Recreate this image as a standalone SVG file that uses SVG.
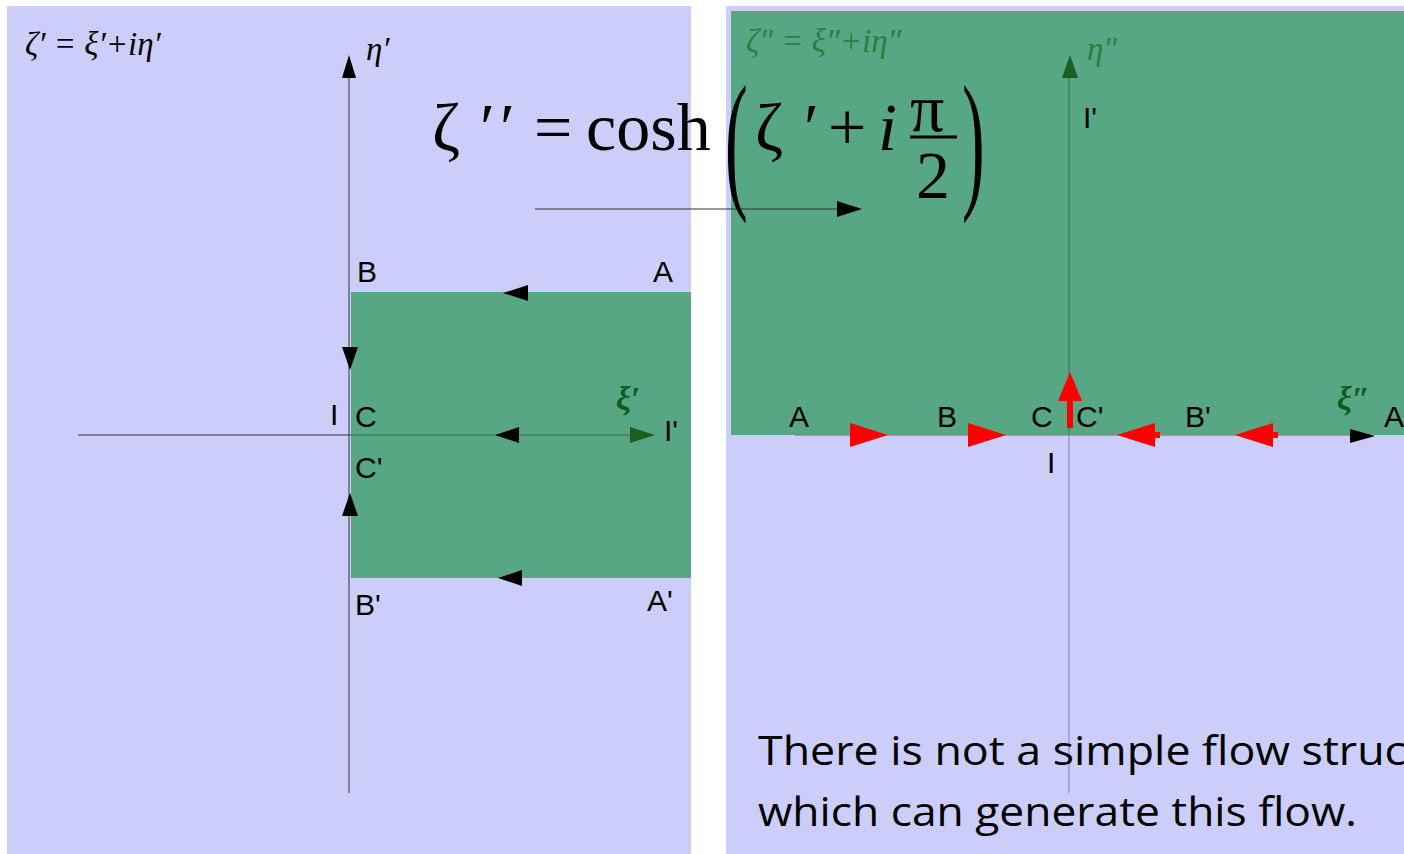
<svg xmlns="http://www.w3.org/2000/svg" width="1404" height="854" viewBox="0 0 1404 854">
<style>
.bg{fill:#cccef9}
.gr{fill:#57a785}
.ax{stroke:#333;stroke-width:1;fill:none}
.axg{stroke:#3d6b4a;stroke-width:1;fill:none}
.axp{stroke:#9a9ac4;stroke-width:1.5;fill:none}
.lbl{font-family:"Liberation Sans",Arial,sans-serif;font-size:30px;fill:#000}
.mi{font-family:"Liberation Serif","DejaVu Serif",serif;font-style:italic;font-size:33px}
.big{font-family:"Liberation Serif","DejaVu Serif",serif;font-size:68px;fill:#000}
.note{font-family:"Open Sans",Lato,sans-serif;font-size:41px;fill:#000}
.blk{fill:#000}
.red{fill:#ff0000}
.dg{fill:#1b5e20}
</style>
<g id="panels">
<rect class="bg" x="7" y="6" width="684" height="848"/>
<rect class="bg" x="726" y="6" width="678" height="848"/>
<rect class="gr" x="351" y="292" width="340" height="286"/>
<rect class="gr" x="731" y="11" width="673" height="424"/>
</g>
<g id="connectors">
<line class="ax" x1="78" y1="435" x2="351" y2="435"/>
<line class="axg" x1="351" y1="435" x2="640" y2="435"/>
<line class="ax" x1="349" y1="793" x2="349" y2="70"/>
<polygon class="blk" points="349,55 342,78 356,78"/>
<polygon class="dg" points="655,435 630,427 630,443"/>
<polygon class="blk" points="503,293 528,285 528,301"/>
<polygon class="blk" points="350,370 342,347 358,347"/>
<polygon class="blk" points="495,435 519,427 519,443"/>
<polygon class="blk" points="350,493 342,516 358,516"/>
<polygon class="blk" points="498,578 522,570 522,586"/>
<line class="ax" x1="535" y1="209" x2="845" y2="209" stroke="#444"/>
<polygon class="blk" points="862,209 837,201 837,217"/>
<line class="axp" x1="1069" y1="793" x2="1069" y2="435"/>
<line class="axg" x1="1069" y1="435" x2="1069" y2="70"/>
<polygon class="dg" points="1070,55 1062,78 1078,78"/>
<line x1="795" y1="435" x2="1360" y2="435" stroke="#7f8f8f" stroke-width="1.5"/>
<polygon class="blk" points="1375,436 1350,429 1350,443"/>
<polygon class="red" points="888,435 850,423 850,447"/>
<polygon class="red" points="1006,435 968,423 968,447"/>
<polygon class="red" points="1117,435 1155,423 1155,447"/>
<rect class="red" x="1153" y="432" width="7" height="6"/>
<polygon class="red" points="1235,435 1273,423 1273,447"/>
<rect class="red" x="1271" y="432" width="7" height="6"/>
<polygon class="red" points="1070,372 1058,401 1082,401"/>
<rect class="red" x="1067" y="399" width="6" height="29"/>
</g>
<g id="left-labels">
<text class="mi" x="25" y="55">ζ′ = ξ′+iη′</text>
<text class="mi" x="366" y="60">η′</text>
<text class="lbl" x="357" y="282">B</text>
<text class="lbl" x="653" y="282">A</text>
<text class="lbl" x="330" y="425">I</text>
<text class="lbl" x="355" y="427">C</text>
<text class="lbl" x="355" y="478">C'</text>
<text class="mi" x="616" y="410" fill="#145a1c" font-weight="bold">ξ′</text>
<text class="lbl" x="664" y="441">I'</text>
<text class="lbl" x="355" y="615">B'</text>
<text class="lbl" x="647" y="611">A'</text>
</g>
<g id="right-labels">
<text class="mi" x="746" y="52" fill="#2e7d3a">ζ″ = ξ″+iη″</text>
<text class="mi" x="1087" y="60" fill="#2e7d3a">η″</text>
<text class="lbl" x="1083" y="128">I'</text>
<text class="lbl" x="789" y="427">A</text>
<text class="lbl" x="937" y="427">B</text>
<text class="lbl" x="1031" y="427">C</text>
<text class="lbl" x="1076" y="427">C'</text>
<text class="lbl" x="1185" y="427">B'</text>
<text class="mi" x="1337" y="410" fill="#145a1c" font-weight="bold">ξ″</text>
<text class="lbl" x="1384" y="427">A</text>
<text class="lbl" x="1047" y="473">I</text>
</g>
<g id="formula">
<text class="big" x="432" y="150">ζ</text>
<text class="big" x="480" y="150">′</text>
<text class="big" x="500" y="150">′</text>
<text class="big" x="534" y="150">=</text>
<text class="big" x="586" y="150" font-size="70">cosh</text>
<text class="big" transform="translate(725,0) scale(1,2.25)" x="0" y="84.8">(</text>
<text class="big" x="755" y="150">ζ</text>
<text class="big" x="804" y="150">′</text>
<text class="big" x="828" y="150">+</text>
<text class="big" x="878" y="150" font-style="italic">i</text>
<text class="big" x="910" y="131" font-size="66">π</text>
<line x1="910" y1="137" x2="957" y2="137" stroke="#000" stroke-width="3"/>
<text class="big" x="916" y="198">2</text>
<text class="big" transform="translate(962,0) scale(1,2.25)" x="0" y="84.8">)</text>
</g>
<g id="note">
<text class="note" x="758" y="765" textLength="648" lengthAdjust="spacingAndGlyphs">There is not a simple flow struc</text>
<text class="note" x="758" y="826" textLength="599" lengthAdjust="spacingAndGlyphs">which can generate this flow.</text>
</g>
</svg>
